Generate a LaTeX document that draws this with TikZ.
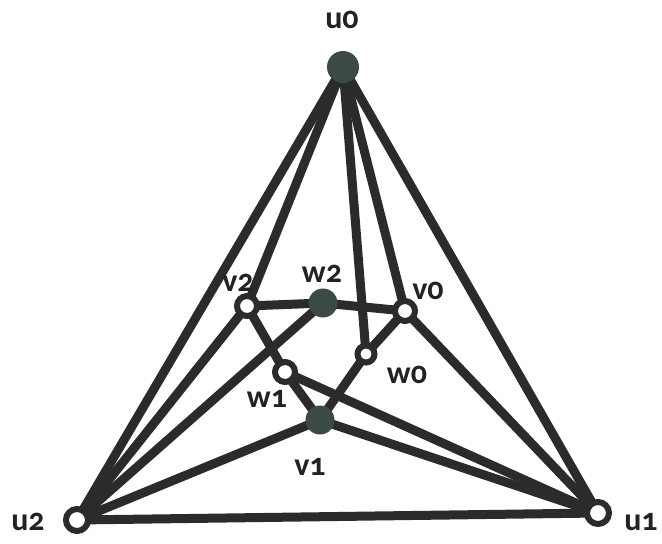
\documentclass[tikz,border=0pt]{standalone}
\usepackage{fontspec}
\setmainfont{Carlito}[Numbers=OldStyle]
\usetikzlibrary{backgrounds}
\definecolor{edgecol}{HTML}{2B2B2B}
\definecolor{blobcol}{HTML}{3C4A47}
\definecolor{labcol}{HTML}{222222}
\begin{document}
\begin{tikzpicture}[x=1pt,y=-1pt,
  edge/.style={draw=edgecol, line width=9pt},
  full/.style={circle, fill=blobcol, minimum size=29pt, inner sep=0pt},
  ring/.style={circle, draw=edgecol, line width=6pt, fill=white, minimum size=20pt, inner sep=0pt},
  lbl/.style={font=\bfseries\fontsize{32}{34}\selectfont, text=labcol, inner sep=0pt}]
\useasboundingbox (0,0) rectangle (662,544);
% nodes
\node[full, minimum size=32pt] (u0) at (343,67) {};
\node[ring, minimum size=22pt] (u1) at (598,513) {};
\node[ring, minimum size=22pt] (u2) at (77,520) {};
\node[ring] (v2) at (247,306) {};
\node[full] (w2) at (323,303) {};
\node[ring] (v0) at (405,311) {};
\node[ring, minimum size=17pt] (w0) at (366,354) {};
\node[ring] (w1) at (285,372) {};
\node[full] (v1) at (320,420) {};
% labels
\node[lbl] (lu0) at (342,20) {u0};
\node[lbl] (lu1) at (641,522) {u1};
\node[lbl] (lu2) at (28,522) {u2};
\node[lbl] (lv2) at (238,283) {v2};
\node[lbl] (lw2) at (322,274) {w2};
\node[lbl] (lv0) at (428,291) {v0};
\node[lbl] (lw0) at (407,375) {w0};
\node[lbl] (lw1) at (267,399) {w1};
\node[lbl] (lv1) at (310,467) {v1};
% edges
\begin{scope}[on background layer]
\draw[edge] (u0.center) -- (u1.center);
\draw[edge] (u0.center) -- (u2.center);
\draw[edge] (u1.center) -- (u2.center);
\draw[edge] (u0.center) -- (v2.center);
\draw[edge] (u0.center) -- (v0.center);
\draw[edge] (u0.center) -- (w0.center);
\draw[edge] (u2.center) -- (v2.center);
\draw[edge] (u2.center) -- (w2.center);
\draw[edge] (u2.center) -- (v1.center);
\draw[edge] (u1.center) -- (v0.center);
\draw[edge] (u1.center) -- (w1.center);
\draw[edge] (u1.center) -- (v1.center);
\draw[edge] (v2.center) -- (w2.center);
\draw[edge] (w2.center) -- (v0.center);
\draw[edge] (v2.center) -- (w1.center);
\draw[edge] (v0.center) -- (w0.center);
\draw[edge] (w0.center) -- (v1.center);
\draw[edge] (w1.center) -- (v1.center);
\end{scope}
\end{tikzpicture}
\end{document}
